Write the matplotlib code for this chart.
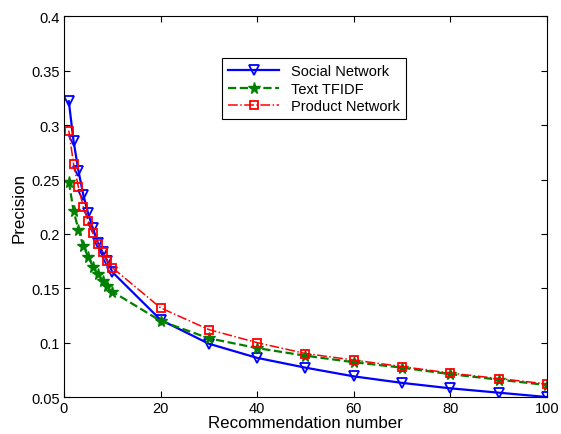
import matplotlib
matplotlib.use('Agg')
import matplotlib.pyplot as plt

plt.rcParams['font.family'] = ['Liberation Sans', 'DejaVu Sans']

# 推荐数目
rec_num = [1, 2, 3, 4, 5, 6, 7, 8, 9, 10, 20, 30, 40, 50, 60, 70, 80, 90, 100]

# 三种方法的精度
social_net = [0.322, 0.285, 0.258, 0.236, 0.219, 0.205, 0.192, 0.183, 0.175, 0.165,
              0.121, 0.099, 0.086, 0.077, 0.069, 0.063, 0.058, 0.054, 0.050]
text_tfidf = [0.248, 0.221, 0.204, 0.189, 0.179, 0.170, 0.163, 0.157, 0.152, 0.147,
              0.120, 0.104, 0.095, 0.088, 0.082, 0.077, 0.071, 0.066, 0.061]
product_net = [0.295, 0.264, 0.243, 0.225, 0.212, 0.201, 0.191, 0.183, 0.175, 0.169,
               0.132, 0.112, 0.100, 0.090, 0.084, 0.078, 0.072, 0.067, 0.062]

xticks = [0, 20, 40, 60, 80, 100]
yticks = [0.05, 0.1, 0.15, 0.2, 0.25, 0.3, 0.35, 0.4]
ytick_labels = ['0.05', '0.1', '0.15', '0.2', '0.25', '0.3', '0.35', '0.4']

fig = plt.figure(figsize=(5.61, 4.35), dpi=100)
ax = fig.add_axes([0.114, 0.085, 0.861, 0.875])

ax.plot(rec_num, social_net, '-', color='blue', lw=1.6, marker='v', ms=6.5,
        mfc='none', mec='blue', mew=1.3, label='Social Network')
ax.plot(rec_num, text_tfidf, '--', color='green', lw=1.6, marker='*', ms=8.5,
        mfc='green', mec='green', label='Text TFIDF')
ax.plot(rec_num, product_net, '-.', color='red', lw=1.1, marker='s', ms=5.5,
        mfc='none', mec='red', mew=1.3, label='Product Network')

ax.set_xlim(0, 100)
ax.set_ylim(0.05, 0.4)
ax.set_xticks(xticks)
ax.set_yticks(yticks)
ax.set_yticklabels(ytick_labels)
ax.tick_params(direction='in', top=True, right=True, labelsize=10.5, length=4, pad=3)
ax.set_xlabel('Recommendation number', fontsize=12.2, labelpad=0)
ax.set_ylabel('Precision', fontsize=12.2, labelpad=3)

leg = ax.legend(loc='upper left', bbox_to_anchor=(0.328, 0.89), fontsize=10.5,
                fancybox=False, edgecolor='black', framealpha=1,
                borderaxespad=0, handlelength=3.5, labelspacing=0.25)
leg.get_frame().set_linewidth(0.8)

fig.savefig('out.png', dpi=100)
